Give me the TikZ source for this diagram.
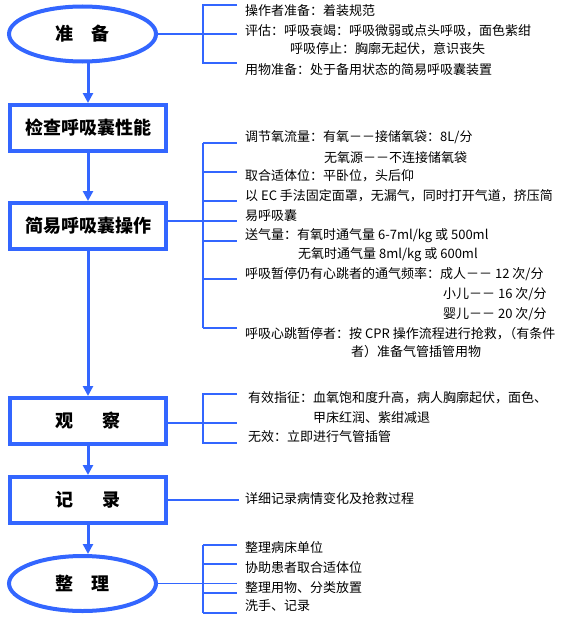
\documentclass[tikz,border=0pt]{standalone}
\usepackage{fontspec}
\setmainfont{Noto Sans CJK SC}
\usepackage{xcolor}
\usepackage{tikz}
\usetikzlibrary{shapes.geometric, arrows.meta}
\definecolor{flowblue}{RGB}{51,102,255}
\tikzset{
    stage/.style={
        draw = flowblue, line width = 4pt,
        minimum width = 156pt,
        minimum height = 46pt,
        align = center,
        font = \fontsize{18}{20}\selectfont\bfseries
    },
    oval/.style={
        stage, ellipse,
        minimum width = 147pt,
        minimum height = 55pt
    },
    note/.style = {anchor = west, inner sep = 0pt, text height = 0.88em, text depth = 0.12em,
        font = \fontsize{13}{16}\selectfont},
    brace/.style = {draw = flowblue, line width = 1.1pt},
    line/.style = {-{Triangle[length=10pt, width=10pt]}, draw = flowblue, line width = 3pt}
}

\begin{document}
\begin{tikzpicture}[x=1pt, y=-1pt]
    \useasboundingbox (0,0) rectangle (560,618);

    % Main steps
    \node[oval] (prep) at (82.5,34) {准\hspace{1.05em}备};
    \node[stage] (check) at (88,128) {检查呼吸囊性能};
    \node[stage] (oper) at (88,226) {简易呼吸囊操作};
    \node[stage] (observe) at (88,421) {观\hspace{1.6em}察};
    \node[stage] (record) at (88,500) {记\hspace{1.6em}录};
    \node[oval] (tidy) at (82.5,583.5) {整\hspace{1em}理};

    % Arrows
    \draw[line] (prep.south -| check.north) -- (check.north);
    \draw[line] (check.south) -- (oper.north);
    \draw[line] (oper.south) -- (observe.north);
    \draw[line] (observe.south) -- (record.north);
    \draw[line] (record.south) -- (record.south |- tidy.north);

    % Prepare notes
    \node[note] (prep1) at (245,12) {操作者准备：着装规范};
    \node[note] (prep2) at (245,32) {评估：呼吸衰竭：呼吸微弱或点头呼吸，面色紫绀};
    \node[note] (prep3) at (290,50) {呼吸停止：胸廓无起伏，意识丧失};
    \node[note] (prep4) at (245,71) {用物准备：处于备用状态的简易呼吸囊装置};
    \coordinate (prep-top) at (203,5);
    \coordinate (prep-bot) at (203,63);
    \draw[brace] ([xshift=34pt]prep-top) -- (prep-top) -- (prep-bot) -- ([xshift=34pt]prep-bot);
    \draw[brace] (prep.east) -- (prep.east -| prep-top) -- +(34,0);

    % Operation notes
    \node[note] (oper1) at (245,138) {调节氧流量：有氧－－接储氧袋：8L/分};
    \node[note] (oper2) at (324,159) {无氧源－－不连接储氧袋};
    \node[note] (oper3) at (245,177) {取合适体位：平卧位，头后仰};
    \node[note] (oper4) at (245,197) {以 EC 手法固定面罩，无漏气，同时打开气道，挤压简};
    \node[note] (oper5) at (245,217) {易呼吸囊};
    \node[note] (oper6) at (245,236) {送气量：有氧时通气量 6-7ml/kg 或 500ml};
    \node[note] (oper7) at (298,255) {无氧时通气量 8ml/kg 或 600ml};
    \node[note] (oper8) at (245,275) {呼吸暂停仍有心跳者的通气频率：成人－－ 12 次/分};
    \node[note] (oper9) at (443,295) {小儿－－ 16 次/分};
    \node[note] (oper10) at (443,315) {婴儿－－ 20 次/分};
    \node[note] (oper11) at (245,335) {呼吸心跳暂停者：按 CPR 操作流程进行抢救，\kern-0.5em（有条件};
    \node[note] (oper12) at (351,353) {者）准备气管插管用物};
    \coordinate (oper-top) at (203,143);
    \coordinate (oper-bot) at (203,328);
    \coordinate (oper-mid) at (203,221);
    \draw[brace] (oper-top) -- (oper-bot);
    \foreach \y in {143,172,201,241,279,328}
        \draw[brace] (203,\y) -- +(34,0);
    \draw[brace] (oper.east |- oper-mid) -- (oper-mid) -- +(34,0);

    % Observe notes
    \node[note] (obs1) at (248,399) {有效指征：血氧饱和度升高，病人胸廓起伏，面色、};
    \node[note] (obs2) at (313,419) {甲床红润、紫绀减退};
    \node[note] (obs3) at (248,438) {无效：立即进行气管插管};
    \coordinate (obs-top) at (203,394);
    \coordinate (obs-bot) at (203,443);
    \coordinate (obs-mid) at (203,423);
    \draw[brace] ([xshift=34pt]obs-top) -- (obs-top) -- (obs-bot) -- ([xshift=34pt]obs-bot);
    \draw[brace] (observe.east |- obs-mid) -- (obs-mid) -- +(34,0);

    % Record note
    \node[note] (rec1) at (245,500) {详细记录病情变化及抢救过程};
    \draw[brace] (record.east) -- ([xshift=-6pt]rec1.west);

    % Tidy notes
    \node[note] (tidy1) at (245,549) {整理病床单位};
    \node[note] (tidy2) at (245,569) {协助患者取合适体位};
    \node[note] (tidy3) at (245,589) {整理用物、分类放置};
    \node[note] (tidy4) at (245,607) {洗手、记录};
    \coordinate (tidy-top) at (203,545);
    \coordinate (tidy-bot) at (203,613);
    \draw[brace] (tidy-top) -- (tidy-bot);
    \foreach \y in {545,564,593,613}
        \draw[brace] (203,\y) -- +(34,0);
    \draw[brace] (tidy.east) -- (tidy.east -| tidy-top) -- +(34,0);

\end{tikzpicture}
\end{document}
